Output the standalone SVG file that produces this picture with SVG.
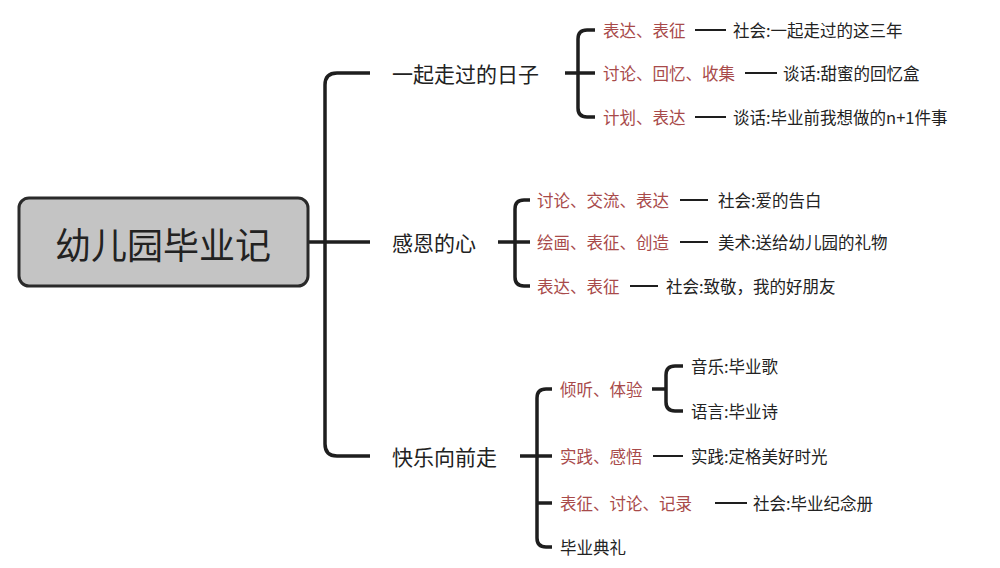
<svg xmlns="http://www.w3.org/2000/svg" width="1000" height="568" viewBox="0 0 1000 568">
<style>
text{font-family:"Noto Sans CJK SC","Noto Sans",sans-serif;dominant-baseline:central;fill:#222}
.l1{font-size:21px}
.red{font-size:16.5px;fill:#a84a4a}
.leaf{font-size:16.5px}
.br{fill:none;stroke:#1e1e1e;stroke-width:3.5;stroke-linecap:butt}
.dash{fill:none;stroke:#1e1e1e;stroke-width:2}
</style>
<rect width="1000" height="568" fill="#ffffff"/>
<g id="connectors">
<path class="br" d="M308,242 H370"/>
<path class="br" d="M370,73 H337 Q325,73 325,85 V444 Q325,456 337,456 H370"/>
<path class="br" d="M595,30 H587 Q578,30 578,39 V108 Q578,117 587,117 H595"/>
<path class="br" d="M565,73 H595"/>
<path class="br" d="M530,200 H524 Q515,200 515,209 V277 Q515,286 524,286 H530"/>
<path class="br" d="M498,242 H530"/>
<path class="br" d="M552,389 H546 Q537,389 537,398 V538 Q537,547 546,547 H552"/>
<path class="br" d="M520,456 H552"/>
<path class="br" d="M537,503 H552"/>
<path class="br" d="M683,366 H675 Q666,366 666,375 V402 Q666,411 675,411 H683"/>
<path class="br" d="M652,389 H666"/>
<path class="dash" d="M695,30 H726"/>
<path class="dash" d="M745,73 H777"/>
<path class="dash" d="M695,117 H726"/>
<path class="dash" d="M680,200 H708"/>
<path class="dash" d="M680,242 H708"/>
<path class="dash" d="M630,286 H658"/>
<path class="dash" d="M653,456 H683"/>
<path class="dash" d="M715,503 H747"/>
</g>
<g id="root">
<rect x="19" y="198" width="289" height="88" rx="10" fill="#c4c4c4" stroke="#2a2a2a" stroke-width="3"/>
<text x="163" y="243" font-size="36" text-anchor="middle">幼儿园毕业记</text>
</g>
<g id="n1"><text class="l1" x="392" y="73">一起走过的日子</text></g>
<g id="n1a"><text class="red" x="603" y="30">表达、表征</text></g>
<g id="n1b"><text class="red" x="603" y="73">讨论、回忆、收集</text></g>
<g id="n1c"><text class="red" x="603" y="117">计划、表达</text></g>
<g id="n1a1"><text class="leaf" x="733" y="30">社会:一起走过的这三年</text></g>
<g id="n1b1"><text class="leaf" x="783" y="73">谈话:甜蜜的回忆盒</text></g>
<g id="n1c1"><text class="leaf" x="733" y="117">谈话:毕业前我想做的n+1件事</text></g>
<g id="n2"><text class="l1" x="392" y="242">感恩的心</text></g>
<g id="n2a"><text class="red" x="537" y="200">讨论、交流、表达</text></g>
<g id="n2b"><text class="red" x="537" y="242">绘画、表征、创造</text></g>
<g id="n2c"><text class="red" x="537" y="286">表达、表征</text></g>
<g id="n2a1"><text class="leaf" x="718" y="200">社会:爱的告白</text></g>
<g id="n2b1"><text class="leaf" x="718" y="242">美术:送给幼儿园的礼物</text></g>
<g id="n2c1"><text class="leaf" x="666" y="286">社会:致敬，我的好朋友</text></g>
<g id="n3"><text class="l1" x="392" y="456">快乐向前走</text></g>
<g id="n3a"><text class="red" x="560" y="389">倾听、体验</text></g>
<g id="n3a1"><text class="leaf" x="691" y="366">音乐:毕业歌</text></g>
<g id="n3a2"><text class="leaf" x="691" y="411">语言:毕业诗</text></g>
<g id="n3b"><text class="red" x="560" y="456">实践、感悟</text></g>
<g id="n3b1"><text class="leaf" x="691" y="456">实践:定格美好时光</text></g>
<g id="n3c"><text class="red" x="560" y="503">表征、讨论、记录</text></g>
<g id="n3c1"><text class="leaf" x="753" y="503">社会:毕业纪念册</text></g>
<g id="n3d"><text class="leaf" x="560" y="547">毕业典礼</text></g>
</svg>
